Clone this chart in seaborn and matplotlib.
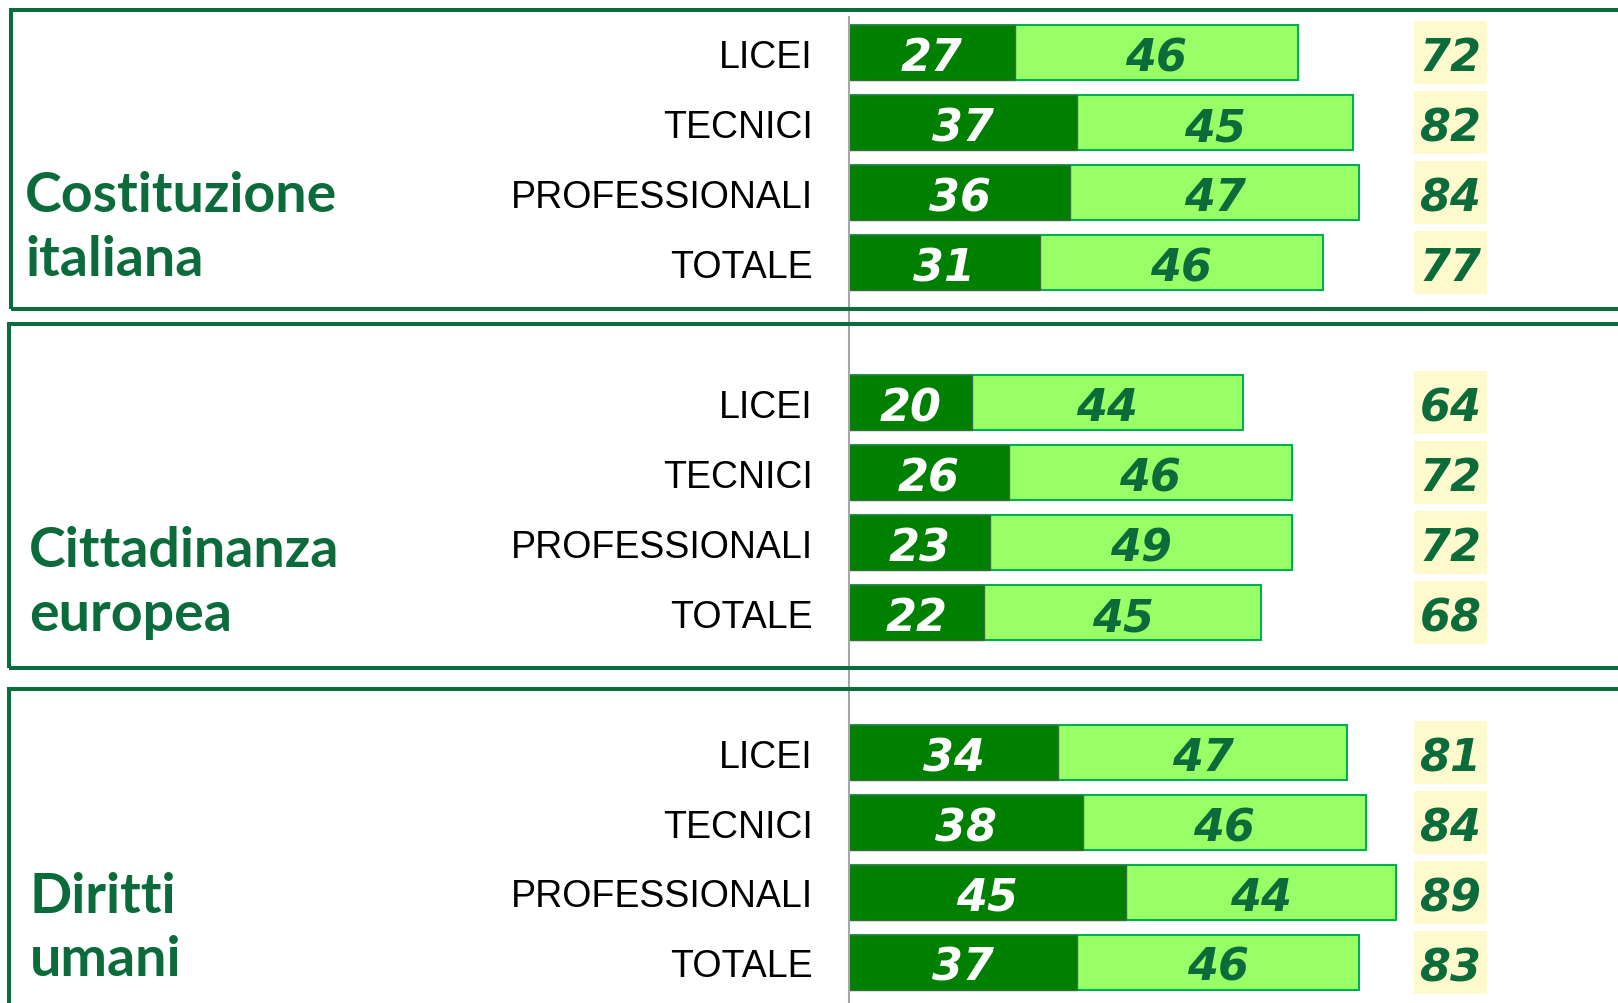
import pandas as pd
import seaborn as sns
import matplotlib
matplotlib.use('Agg')
import matplotlib.pyplot as plt
from matplotlib.patches import Rectangle

# data
sections = ['Costituzione\nitaliana', 'Cittadinanza\neuropea', 'Diritti\numani']
categories = ['LICEI', 'TECNICI', 'PROFESSIONALI', 'TOTALE']
molto = [27, 37, 36, 31, 20, 26, 23, 22, 34, 38, 45, 37]
abbastanza = [46, 45, 47, 46, 44, 46, 49, 45, 47, 46, 44, 46]
totale = [72, 82, 84, 77, 64, 72, 72, 68, 81, 84, 89, 83]

DARK = '#008000'
LIGHT = '#99FF66'
GREEN_TXT = '#0B6B3A'
W, H = 1618, 1004

rows = []
for s in range(len(sections)):
    for i, cat in enumerate(categories):
        k = s * len(categories) + i
        rows.append({'pos': s * 5 + i, 'cat': cat, 'molto': molto[k],
                     'abb': abbastanza[k], 'tot': totale[k]})
df = pd.DataFrame(rows)
df['stack'] = df['molto'] + df['abb']

sns.set_style('white')
fig = plt.figure(figsize=(W / 100, H / 100), dpi=100)
px = 6.15  # pixels per unit
ax = fig.add_axes([849 / W, 0, 1 - 849 / W, 1])
ax.patch.set_visible(False)

sns.barplot(data=df, x='stack', y='pos', orient='h', native_scale=True,
            color=LIGHT, edgecolor='#00B050', linewidth=1.5, saturation=1,
            errorbar=None, width=0.786, ax=ax)
sns.barplot(data=df, x='molto', y='pos', orient='h', native_scale=True,
            color=DARK, edgecolor='#3A6E3A', linewidth=1, saturation=1,
            errorbar=None, width=0.786, ax=ax)

# yellow boxes with totals
ax.barh(df['pos'], 11.8, left=91.9, height=0.914, color='#FFFACD', lw=0)

numfont = dict(family='DejaVu Sans', weight='bold', style='italic', size=32,
               ha='center', va='baseline')
for _, r in df.iterrows():
    ax.text(r['molto'] / 2, r['pos'] + 0.25, str(r['molto']), color='white', **numfont)
    ax.text(r['molto'] + r['abb'] / 2, r['pos'] + 0.25, str(r['abb']), color=GREEN_TXT, **numfont)
    ax.text(97.8, r['pos'] + 0.255, str(r['tot']), color=GREEN_TXT, **numfont)

ax.set_xlim(0, (W - 849) / px)
ax.set_ylim((H - 53.5) / 70, -53.5 / 70)
ax.set_yticks(df['pos'])
ax.set_yticklabels(df['cat'], fontsize=27,
                   fontfamily=['Liberation Sans', 'DejaVu Sans'])
ax.tick_params(axis='y', length=0, pad=26, colors='black')
ax.set_xticks([])
ax.set_xlabel('')
ax.set_ylabel('')
for side in ['top', 'right', 'bottom']:
    ax.spines[side].set_visible(False)
ax.spines['left'].set_color('#A6A6A6')
ax.spines['left'].set_linewidth(1.5)
ax.spines['left'].set_bounds((H - 53.5) / 70, (18 - 53.5) / 70)

# section frames
for x0, y0, y1 in [(11, 11, 310), (9, 325, 669), (9, 690, 1060)]:
    fig.add_artist(Rectangle((x0 / W, 1 - y1 / H), (1700 - x0) / W, (y1 - y0) / H,
                             transform=fig.transFigure, fill=False,
                             edgecolor='#0A6E3C', lw=2.9, clip_on=False))

# section titles
title_pos = [(25, 212, 275.5), (29, 567, 630.5), (30, 913, 976)]
for name, (x0, b1, b2) in zip(sections, title_pos):
    l1, l2 = name.split('\n')
    for line, b in [(l1, b1), (l2, b2)]:
        fig.text(x0 / W, 1 - b / H, line, fontsize=40, weight='bold',
                 family=['Lato', 'DejaVu Sans'], color=GREEN_TXT,
                 ha='left', va='baseline')

plt.savefig('out.png', dpi=100)
